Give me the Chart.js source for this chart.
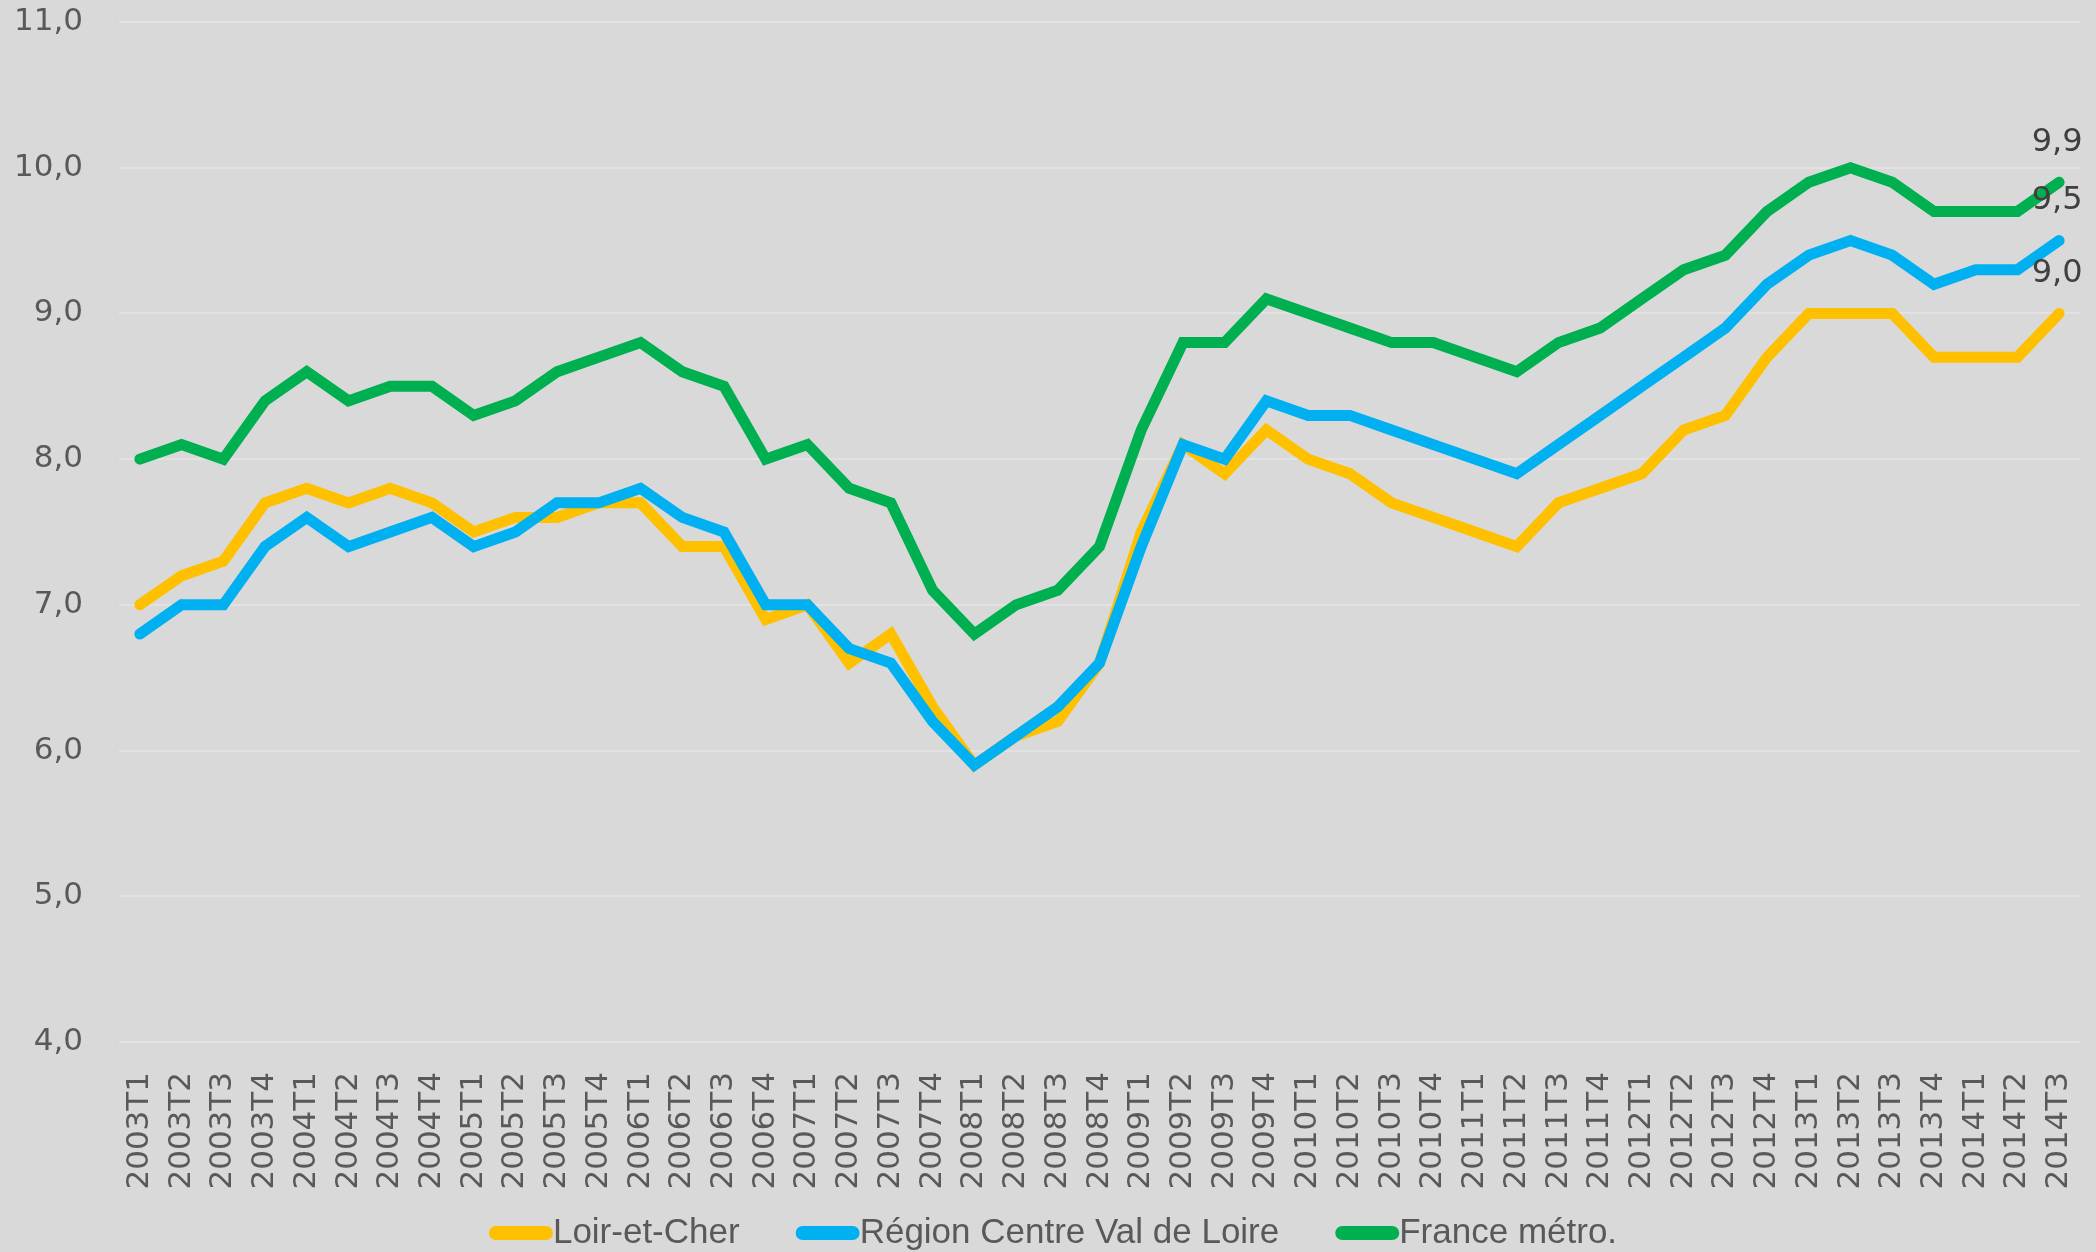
<!DOCTYPE html>
<html lang="fr">
<head>
<meta charset="utf-8">
<title>Taux de chômage</title>
<script src="https://cdn.jsdelivr.net/npm/chart.js@4.4.1/dist/chart.umd.min.js"></script>
<style>
  html, body { margin: 0; padding: 0; background: #d9d9d9; }
  canvas { display: block; }
</style>
</head>
<body>
<canvas id="chomage" width="2096" height="1252"></canvas>
<script>
// trimestres 2003T1 -> 2014T3
const trimestres = [
  "2003T1", "2003T2", "2003T3", "2003T4",
  "2004T1", "2004T2", "2004T3", "2004T4",
  "2005T1", "2005T2", "2005T3", "2005T4",
  "2006T1", "2006T2", "2006T3", "2006T4",
  "2007T1", "2007T2", "2007T3", "2007T4",
  "2008T1", "2008T2", "2008T3", "2008T4",
  "2009T1", "2009T2", "2009T3", "2009T4",
  "2010T1", "2010T2", "2010T3", "2010T4",
  "2011T1", "2011T2", "2011T3", "2011T4",
  "2012T1", "2012T2", "2012T3", "2012T4",
  "2013T1", "2013T2", "2013T3", "2013T4",
  "2014T1", "2014T2", "2014T3"
];

const loirEtCher = [
  7.0, 7.2, 7.3, 7.7,
  7.8, 7.7, 7.8, 7.7,
  7.5, 7.6, 7.6, 7.7,
  7.7, 7.4, 7.4, 6.9,
  7.0, 6.6, 6.8, 6.3,
  5.9, 6.1, 6.2, 6.6,
  7.5, 8.1, 7.9, 8.2,
  8.0, 7.9, 7.7, 7.6,
  7.5, 7.4, 7.7, 7.8,
  7.9, 8.2, 8.3, 8.7,
  9.0, 9.0, 9.0, 8.7,
  8.7, 8.7, 9.0
];

const regionCentre = [
  6.8, 7.0, 7.0, 7.4,
  7.6, 7.4, 7.5, 7.6,
  7.4, 7.5, 7.7, 7.7,
  7.8, 7.6, 7.5, 7.0,
  7.0, 6.7, 6.6, 6.2,
  5.9, 6.1, 6.3, 6.6,
  7.4, 8.1, 8.0, 8.4,
  8.3, 8.3, 8.2, 8.1,
  8.0, 7.9, 8.1, 8.3,
  8.5, 8.7, 8.9, 9.2,
  9.4, 9.5, 9.4, 9.2,
  9.3, 9.3, 9.5
];

const franceMetro = [
  8.0, 8.1, 8.0, 8.4,
  8.6, 8.4, 8.5, 8.5,
  8.3, 8.4, 8.6, 8.7,
  8.8, 8.6, 8.5, 8.0,
  8.1, 7.8, 7.7, 7.1,
  6.8, 7.0, 7.1, 7.4,
  8.2, 8.8, 8.8, 9.1,
  9.0, 8.9, 8.8, 8.8,
  8.7, 8.6, 8.8, 8.9,
  9.1, 9.3, 9.4, 9.7,
  9.9, 10.0, 9.9, 9.7,
  9.7, 9.7, 9.9
];

const yMin = 4;
const yMax = 11;

const fmt = (v) => v.toFixed(1).replace(".", ",");

// valeur du dernier trimestre au-dessus de chaque courbe
const lastValueLabels = {
  id: "lastValueLabels",
  afterDatasetsDraw(chart) {
    const ctx = chart.ctx;
    ctx.save();
    ctx.font = '32px "DejaVu Sans"';
    ctx.fillStyle = "#404040";
    ctx.textAlign = "center";
    ctx.textBaseline = "middle";
    chart.data.datasets.forEach((ds, i) => {
      const meta = chart.getDatasetMeta(i);
      const last = meta.data[meta.data.length - 1];
      ctx.fillText(fmt(ds.data[ds.data.length - 1]), last.x - 2, last.y - 40);
    });
    ctx.restore();
  }
};

// légende en bas, trait coloré collé au texte
const bottomLegend = {
  id: "bottomLegend",
  afterDraw(chart) {
    const ctx = chart.ctx;
    ctx.save();
    ctx.font = '35px "Liberation Sans Narrow", "Liberation Sans", sans-serif';
    ctx.textBaseline = "middle";
    ctx.textAlign = "left";
    const markW = 64;
    const gap = 56;
    const items = chart.data.datasets.map(ds => ({
      text: ds.label,
      color: ds.borderColor,
      w: ctx.measureText(ds.label).width
    }));
    let total = gap * (items.length - 1);
    items.forEach(it => { total += markW + it.w; });
    let x = (chart.width - total) / 2 + 5;
    const y = 1233;
    items.forEach(it => {
      ctx.strokeStyle = it.color;
      ctx.lineWidth = 14;
      ctx.lineCap = "round";
      ctx.beginPath();
      ctx.moveTo(x + 7, y);
      ctx.lineTo(x + markW - 7, y);
      ctx.stroke();
      ctx.fillStyle = "#595959";
      ctx.fillText(it.text, x + markW, y);
      x += markW + it.w + gap;
    });
    ctx.restore();
  }
};

const ctx = document.getElementById("chomage");

const chart = new Chart(ctx, {
  type: "line",
  data: {
    labels: trimestres,
    datasets: [
      {
        label: "Loir-et-Cher",
        data: loirEtCher,
        borderColor: "#FFC000",
        order: 2
      },
      {
        label: "Région Centre Val de Loire",
        data: regionCentre,
        borderColor: "#00B0F0",
        order: 1
      },
      {
        label: "France métro.",
        data: franceMetro,
        borderColor: "#00B050",
        order: 0
      }
    ]
  },
  options: {
    responsive: false,
    animation: false,
    devicePixelRatio: 1,
    layout: {
      padding: { top: 22, right: 16, bottom: 60, left: 0 }
    },
    elements: {
      line: {
        borderWidth: 11,
        tension: 0,
        borderCapStyle: "round",
        borderJoinStyle: "miter",
        fill: false
      },
      point: { radius: 0, hoverRadius: 0 }
    },
    scales: {
      x: {
        offset: true,
        grid: { display: false },
        border: { display: false },
        ticks: {
          color: "#595959",
          font: { family: "DejaVu Sans", size: 31 },
          minRotation: 90,
          maxRotation: 90,
          autoSkip: false,
          padding: 22
        },
        afterFit: (scale) => {
          scale.height = 150;
          scale.paddingLeft = 0;
          scale.paddingRight = 0;
        }
      },
      y: {
        min: yMin,
        max: yMax,
        grid: {
          color: "#e2e2e2",
          lineWidth: 2,
          drawTicks: false
        },
        border: { display: false },
        ticks: {
          stepSize: 1,
          color: "#595959",
          font: { family: "DejaVu Sans", size: 31 },
          padding: 36,
          callback: (v) => fmt(v)
        },
        afterFit: (scale) => {
          scale.width = 119;
          scale.paddingTop = 0;
          scale.paddingBottom = 0;
        }
      }
    },
    plugins: {
      legend: { display: false },
      tooltip: { enabled: false },
      title: { display: false }
    }
  },
  plugins: [lastValueLabels, bottomLegend]
});
</script>
</body>
</html>
